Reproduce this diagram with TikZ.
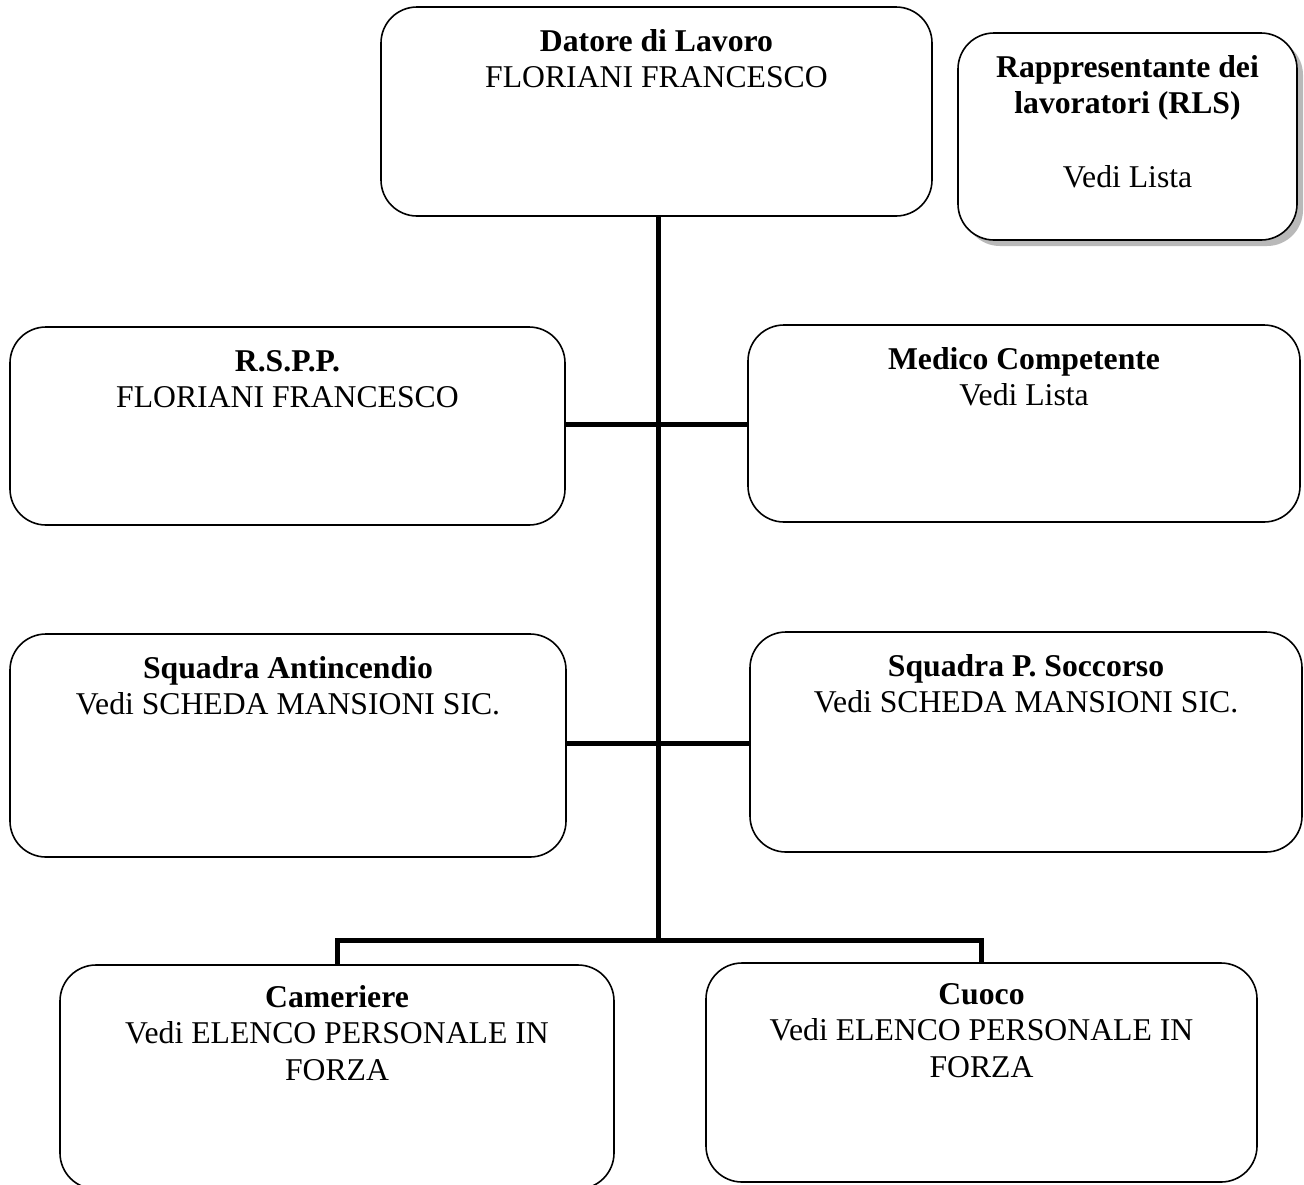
\documentclass[tikz,border=0pt]{standalone}
\usepackage{fontspec}
\setmainfont{Liberation Serif}
\usetikzlibrary{shadows}
\begin{document}
\begin{tikzpicture}[x=1pt,y=-1pt,
  box/.style={draw=black, line width=1.6pt, rounded corners=36pt, fill=white, inner sep=0pt},
  txt/.style={anchor=north, align=center, font=\fontsize{31.7}{36.5}\selectfont, inner sep=0pt},
  conn/.style={draw=black, line width=5pt}]
\useasboundingbox[fill=white] (0,0) rectangle (1304,1184);
% boxes
\node[box, minimum width=551pt, minimum height=209pt] (dl) at (656.5,111.5) {};
\node[box, minimum width=339pt, minimum height=207pt,
  drop shadow={shadow xshift=6pt, shadow yshift=-6pt, fill=gray!55, opacity=1}] (rls) at (1127.5,136.5) {};
\node[box, minimum width=555pt, minimum height=198pt] (rspp) at (287.5,426) {};
\node[box, minimum width=552pt, minimum height=197pt] (med) at (1024,423.5) {};
\node[box, minimum width=556pt, minimum height=223pt] (sa) at (288,745.5) {};
\node[box, minimum width=552pt, minimum height=220pt] (sps) at (1026,742) {};
\node[box, minimum width=554pt, minimum height=224pt] (cam) at (337,1077) {};
\node[box, minimum width=551pt, minimum height=219pt] (cuo) at (981.5,1072.5) {};
% texts
\node[txt] (tdl) at ([yshift=-23pt]dl.north) {\textbf{Datore di Lavoro}\\FLORIANI FRANCESCO};
\node[txt] (trls) at ([yshift=-23pt]rls.north) {\textbf{Rappresentante dei}\\\textbf{lavoratori (RLS)}\\[37pt]Vedi Lista};
\node[txt] (trspp) at ([yshift=-24pt]rspp.north) {\textbf{R.S.P.P.}\\FLORIANI FRANCESCO};
\node[txt] (tmed) at ([yshift=-23pt]med.north) {\textbf{Medico Competente}\\Vedi Lista};
\node[txt] (tsa) at ([yshift=-23pt]sa.north) {\textbf{Squadra Antincendio}\\Vedi SCHEDA MANSIONI SIC.};
\node[txt] (tsps) at ([yshift=-23pt]sps.north) {\textbf{Squadra P. Soccorso}\\Vedi SCHEDA MANSIONI SIC.};
\node[txt] (tcam) at ([yshift=-21pt]cam.north) {\textbf{Cameriere}\\Vedi ELENCO PERSONALE IN\\FORZA};
\node[txt] (tcuo) at ([yshift=-21pt]cuo.north) {\textbf{Cuoco}\\Vedi ELENCO PERSONALE IN\\FORZA};
% connectors
\coordinate (top) at (658,216);
\coordinate (jb) at (658,940);
\draw[conn] (top) -- (jb);
\draw[conn] (rspp.east |- 0,424) -- (med.west |- 0,424);
\draw[conn] (sa.east |- 0,743) -- (sps.west |- 0,743);
\draw[conn] (cam.north) |- (jb) -| (cuo.north);
\end{tikzpicture}
\end{document}
